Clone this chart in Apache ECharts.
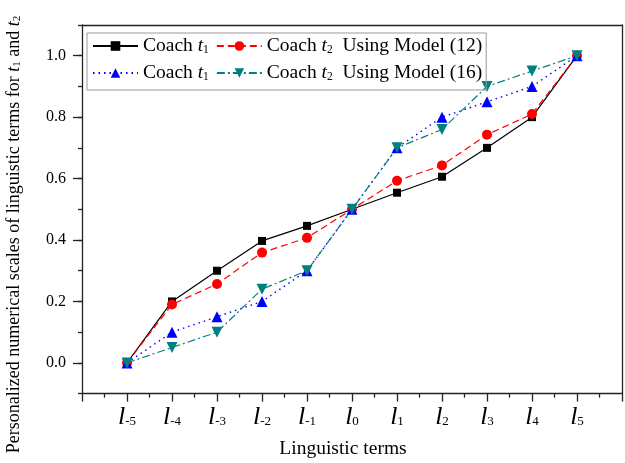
<!DOCTYPE html>
<html><head><meta charset="utf-8">
<script src="https://cdn.jsdelivr.net/npm/echarts@6/dist/echarts.min.js"></script>
<style>html,body{margin:0;padding:0;background:#fff}#c{width:625px;height:463px}</style>
</head><body><div id="c"></div>
<script>
// ---- data ----
const termIndex = [-5, -4, -3, -2, -1, 0, 1, 2, 3, 4, 5];
const termSubscripts = ['-5', '-4', '-3', '-2', '-1', '0', '1', '2', '3', '4', '5'];
const coachT1Model12 = [0, 0.2, 0.3, 0.397, 0.446, 0.5, 0.554, 0.606, 0.7, 0.8, 1.0];
const coachT2Model12 = [0, 0.19, 0.257, 0.359, 0.407, 0.5, 0.593, 0.643, 0.743, 0.81, 1.0];
const coachT1Model16 = [0, 0.1, 0.15, 0.2, 0.3, 0.5, 0.7, 0.8, 0.85, 0.9, 1.0];
const coachT2Model16 = [0, 0.05, 0.1, 0.24, 0.3, 0.5, 0.7, 0.76, 0.9, 0.95, 1.0];
const yTickLabels = ['0.0', '0.2', '0.4', '0.6', '0.8', '1.0'];
const seriesNames = ['Coach t1 (12)', 'Coach t2 (12)', 'Coach t1 (16)', 'Coach t2 (16)'];
const legendLabels = [
  'Coach {i|t}{s|1}',
  'Coach {i|t}{s|2}  Using Model (12)',
  'Coach {i|t}{s|1}',
  'Coach {i|t}{s|2}  Using Model (16)'
];

const FONT = 'Liberation Serif';
const AX = '#222';
const G = { left: 82, top: 25, width: 548, height: 368.6 };

function pts(vals) { return termIndex.map((x, i) => [x, vals[i]]); }

const chart = echarts.init(document.getElementById('c'), null, { renderer: 'canvas' });

const subRich = {
  i: { fontFamily: FONT, fontStyle: 'italic', fontSize: 19.5, lineHeight: 20, color: '#000' },
  s: { fontFamily: FONT, fontSize: 11.5, lineHeight: 2, verticalAlign: 'bottom', color: '#000' }
};

chart.setOption({
  animation: false,
  backgroundColor: '#fff',
  grid: [
    { left: G.left, top: G.top, width: G.width, height: G.height },
    { left: G.left, top: G.top + G.height / 12, width: G.width, height: G.height * 10 / 12 }
  ],
  legend: {
    left: 87, top: 33, width: 400,
    itemWidth: 45, itemHeight: 12, itemGap: 7,
    padding: [3, 4, 7, 5],
    borderColor: '#999', borderWidth: 1,
    data: seriesNames,
    formatter: n => legendLabels[seriesNames.indexOf(n)],
    textStyle: { fontFamily: FONT, fontSize: 19.5, color: '#000', lineHeight: 20, rich: subRich }
  },
  xAxis: [
    {
      gridIndex: 0, type: 'value', min: -6, max: 6, interval: 1, position: 'bottom',
      axisLine: { onZero: false, lineStyle: { color: AX, width: 1.3 } },
      axisTick: { inside: false, length: 8, lineStyle: { color: AX, width: 1.3 } },
      minorTick: { show: true, splitNumber: 2, length: 4, lineStyle: { color: AX, width: 1.3 } },
      splitLine: { show: false }, minorSplitLine: { show: false },
      axisLabel: {
        margin: 14,
        formatter: v => {
          const k = termIndex.indexOf(Math.round(v));
          return k < 0 ? '' : '{l|l}{s|' + termSubscripts[k] + '}';
        },
        rich: {
          l: { fontFamily: FONT, fontStyle: 'italic', fontSize: 26, lineHeight: 20, color: '#000' },
          s: { fontFamily: FONT, fontSize: 13, lineHeight: 1, verticalAlign: 'bottom', color: '#000' }
        }
      }
    },
    {
      gridIndex: 0, type: 'value', min: -6, max: 6, interval: 1, position: 'top',
      axisLine: { onZero: false, lineStyle: { color: AX, width: 1.3 } },
      axisTick: { show: false }, axisLabel: { show: false }, splitLine: { show: false }
    },
    { gridIndex: 1, type: 'value', min: -6, max: 6, show: false }
  ],
  yAxis: [
    {
      gridIndex: 0, type: 'value', min: -0.1, max: 1.1, interval: 0.1, position: 'left',
      axisLine: { show: true, onZero: false, lineStyle: { color: AX, width: 1.3 } },
      axisTick: { show: true, inside: false, length: 4, lineStyle: { color: AX, width: 1.3 } },
      axisLabel: { show: false }, splitLine: { show: false }
    },
    {
      gridIndex: 0, type: 'value', min: -0.1, max: 1.1, interval: 0.1, position: 'right',
      axisLine: { show: true, onZero: false, lineStyle: { color: AX, width: 1.3 } },
      axisTick: { show: false }, axisLabel: { show: false }, splitLine: { show: false }
    },
    {
      gridIndex: 1, type: 'value', min: 0, max: 1, interval: 0.2, position: 'left',
      axisLine: { show: false, onZero: false },
      axisTick: { show: true, inside: false, length: 9, lineStyle: { color: AX, width: 1.3 } },
      axisLabel: {
        margin: 16, fontFamily: FONT, fontSize: 16, color: '#000',
        formatter: v => yTickLabels[Math.round(v * 5)]
      },
      splitLine: { show: false }
    }
  ],
  graphic: [
    {
      type: 'text', x: 14, y: 234.5, rotation: Math.PI / 2,
      style: {
        text: 'Personalized numerical scales of linguistic terms for {i|t}{s|1} and {i|t}{s|2}',
        fontFamily: FONT, fontSize: 18, lineHeight: 18, fill: '#000',
        align: 'center', verticalAlign: 'middle',
        rich: {
          i: { fontFamily: FONT, fontStyle: 'italic', fontSize: 18, lineHeight: 18, fill: '#000' },
          s: { fontFamily: FONT, fontSize: 11, lineHeight: 2, verticalAlign: 'bottom', fill: '#000' }
        }
      }
    },
    {
      type: 'text', x: 343, y: 449,
      style: {
        text: 'Linguistic terms', fontFamily: FONT, fontSize: 19.5, fill: '#000',
        align: 'center', verticalAlign: 'middle'
      }
    }
  ],
  series: [
    {
      name: seriesNames[0], type: 'line', xAxisIndex: 0, yAxisIndex: 0,
      data: pts(coachT1Model12), symbol: 'rect', symbolSize: 8,
      lineStyle: { color: '#000', width: 1.2, type: 'solid' },
      itemStyle: { color: '#000' }
    },
    {
      name: seriesNames[1], type: 'line', xAxisIndex: 0, yAxisIndex: 0,
      data: pts(coachT2Model12), symbol: 'circle', symbolSize: 10,
      lineStyle: { color: '#ff0000', width: 1.2, type: [7, 4] },
      itemStyle: { color: '#ff0000' }
    },
    {
      name: seriesNames[2], type: 'line', xAxisIndex: 0, yAxisIndex: 0,
      data: pts(coachT1Model16), symbol: 'triangle', symbolSize: 11,
      lineStyle: { color: '#0000ff', width: 1.4, type: [1.5, 4] },
      itemStyle: { color: '#0000ff' }
    },
    {
      name: seriesNames[3], type: 'line', xAxisIndex: 0, yAxisIndex: 0,
      data: pts(coachT2Model16), symbol: 'path://M0,0 L10,0 L5,9 Z', symbolSize: 11,
      lineStyle: { color: '#008080', width: 1.2, type: [8, 3, 2, 3] },
      itemStyle: { color: '#008080' }
    }
  ]
});
</script>
</body></html>
